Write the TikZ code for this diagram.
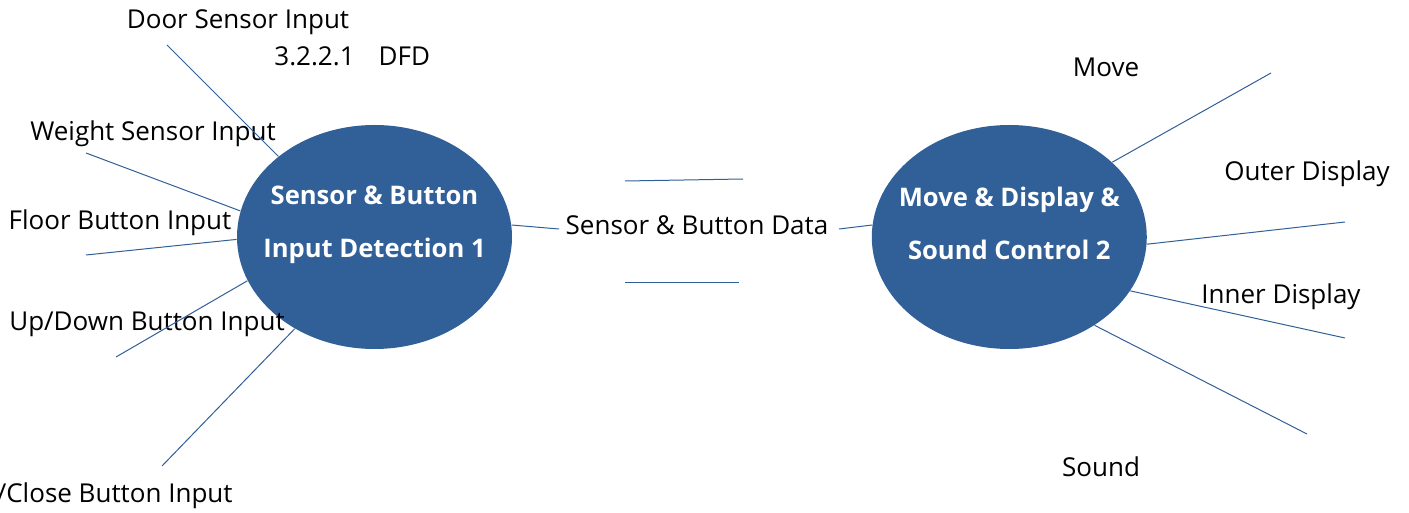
\documentclass[tikz,border=0pt]{standalone}
\usepackage{fontspec}
\setmainfont{Open Sans}
\usetikzlibrary{positioning}
\usetikzlibrary{shapes.geometric}
\definecolor{procblue}{RGB}{49,95,151}
\newcommand{\Pone}{Sensor \& Button\\Input Detection 1}
\newcommand{\Ptwo}{Move \& Display \&\\Sound Control 2}
\tikzstyle{proc} = [ellipse,fill=procblue,draw=none,inner sep=0pt,minimum width=137.5pt,minimum height=112pt]
\tikzstyle{proctext} = [text=white,align=center,inner sep=0pt,font=\bfseries\fontsize{12.8}{26.5}\selectfont]
\tikzstyle{flowtext} = [inner sep=0pt,text height=11pt,text depth=2.5pt,font=\fontsize{13}{15}\selectfont]
\tikzstyle{flow} = [draw=procblue,line width=0.5pt]

\begin{document}
\begin{tikzpicture}[x=0.5pt,y=-0.5pt]
\useasboundingbox (0,0) rectangle (1409,513);

% Define nodes
\node[proc]                              (e1) at (374.5,237) {};
\node[proc, right = 179.5pt of e1]       (e2) {};
\node[proctext, yshift=6pt]              (t1) at (e1) {\Pone};
\node[proctext, yshift=7pt]              (t2) at (e2) {\Ptwo};

\node[flowtext]                          (ldoor)   at (238,20)  {Door Sensor Input};
\node[flowtext, anchor=west]             (ldfd)    at (274,57)  {3.2.2.1\hspace{12pt}DFD};
\node[flowtext]                          (lweight) at (153,132) {Weight Sensor Input};
\node[flowtext]                          (lfloor)  at (120,221) {Floor Button Input};
\node[flowtext]                          (lupdown) at (147,322) {Up/Down Button Input};
\node[flowtext, anchor=east]             (lopen)   at (233,494) {Open/Close Button Input};
\node[flowtext]                          (ldata)   at (697,226) {Sensor \& Button Data};
\node[flowtext]                          (lmove)   at (1106,68) {Move};
\node[flowtext]                          (louter)  at (1307,172) {Outer Display};
\node[flowtext]                          (linner)  at (1281,295) {Inner Display};
\node[flowtext]                          (lsound)  at (1101,468) {Sound};

% free ends
\coordinate (cdoor)   at (167,45);
\coordinate (cweight) at (86,153);
\coordinate (cfloor)  at (86,255);
\coordinate (cupdown) at (116,357);
\coordinate (copen)   at (162,466);
\coordinate (cdatal)  at (559,229);
\coordinate (cdatar)  at (839,229);
\coordinate (ctopa)   at (625,181);
\coordinate (ctopb)   at (743,179);
\coordinate (cbota)   at (625,283);
\coordinate (cbotb)   at (739,283);
\coordinate (cmove)   at (1271,73);
\coordinate (couter)  at (1345,222);
\coordinate (cinner)  at (1345,338);
\coordinate (csound)  at (1307,434);

% Edges
\draw[flow] (cdoor)   -- (e1.140);
\draw[flow] (cweight) -- (e1.169);
\draw[flow] (cfloor)  -- (e1.181);
\draw[flow] (cupdown) -- (e1.199);
\draw[flow] (copen)   -- (e1.229);
\draw[flow] (e1.5)    -- (cdatal);
\draw[flow] (cdatar)  -- (e2.175);
\draw[flow] (ctopa)   -- (ctopb);
\draw[flow] (cbota)   -- (cbotb);
\draw[flow] (e2.36)   -- (cmove);
\draw[flow] (e2.357)  -- (couter);
\draw[flow] (e2.336)  -- (cinner);
\draw[flow] (e2.314)  -- (csound);
\end{tikzpicture}
\end{document}
